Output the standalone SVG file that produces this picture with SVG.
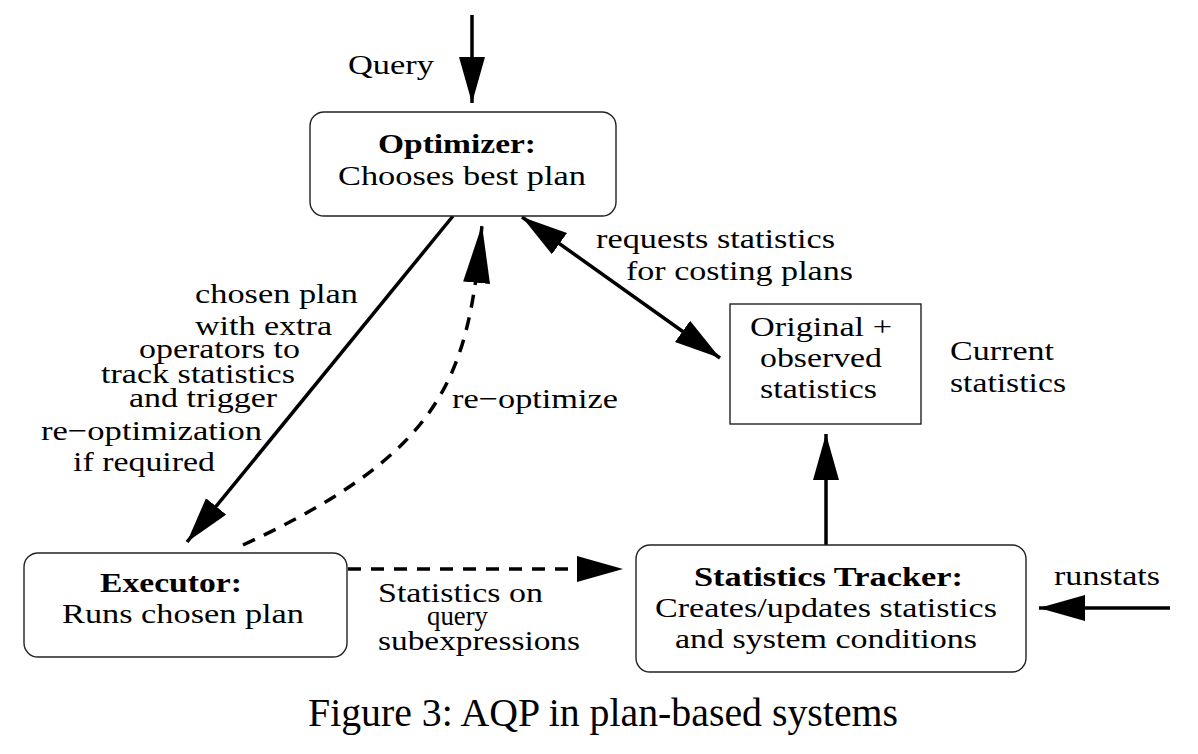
<svg xmlns="http://www.w3.org/2000/svg" width="1198" height="754" viewBox="0 0 1198 754">
<style>
text{font-family:"Liberation Serif","Times New Roman",serif;font-size:28px;fill:#000}
.b{font-weight:bold}
.cap{font-size:39px}
.box{fill:#fff;stroke:#222;stroke-width:1.4}
.ln{fill:none;stroke:#000;stroke-width:3.5}
.ds{stroke-dasharray:13 10}
</style>
<defs>
<marker id="ah" markerUnits="userSpaceOnUse" markerWidth="48" markerHeight="28" refX="46" refY="13" orient="auto-start-reverse" viewBox="0 0 48 28">
<path d="M0,0 L46,13 L0,26 Z" fill="#000"/>
</marker>
<marker id="ahl" markerUnits="userSpaceOnUse" markerWidth="60" markerHeight="28" refX="58" refY="13.5" orient="auto" viewBox="0 0 60 28">
<path d="M0,0 L58,13.5 L0,27 Z" fill="#000"/>
</marker>
</defs>
<rect width="1198" height="754" fill="#fff"/>
<g id="connectors">
<line class="ln" x1="472" y1="15" x2="472" y2="103" marker-end="url(#ah)"/>
<line class="ln" x1="453" y1="216" x2="187" y2="542" marker-end="url(#ah)"/>
<path class="ln ds" d="M243,545 C448,450 468,374 482,225" marker-end="url(#ahl)"/>
<line class="ln" x1="522" y1="217" x2="720" y2="358" marker-start="url(#ah)" marker-end="url(#ah)"/>
<line class="ln ds" x1="348" y1="569" x2="623" y2="569" marker-end="url(#ah)"/>
<line class="ln" x1="826" y1="545" x2="826" y2="434" marker-end="url(#ah)"/>
<line class="ln" x1="1170" y1="608" x2="1039" y2="608" marker-end="url(#ah)"/>
</g>
<g id="optimizer">
<rect class="box" x="310" y="112" width="306" height="104" rx="14"/>
<text class="b" x="378" y="153" textLength="158" lengthAdjust="spacingAndGlyphs">Optimizer:</text>
<text x="338" y="185" textLength="248" lengthAdjust="spacingAndGlyphs">Chooses best plan</text>
</g>
<g id="executor">
<rect class="box" x="24" y="553" width="323" height="104" rx="14"/>
<text class="b" x="100" y="592" textLength="142" lengthAdjust="spacingAndGlyphs">Executor:</text>
<text x="62" y="623" textLength="242" lengthAdjust="spacingAndGlyphs">Runs chosen plan</text>
</g>
<g id="statistics-tracker">
<rect class="box" x="636" y="545" width="390" height="127" rx="14"/>
<text class="b" x="694" y="586" textLength="269" lengthAdjust="spacingAndGlyphs">Statistics Tracker:</text>
<text x="655" y="617" textLength="342" lengthAdjust="spacingAndGlyphs">Creates/updates statistics</text>
<text x="675" y="648" textLength="302" lengthAdjust="spacingAndGlyphs">and system conditions</text>
</g>
<g id="statistics-store">
<rect class="box" x="730" y="304" width="191" height="120"/>
<text x="750" y="336" textLength="142" lengthAdjust="spacingAndGlyphs">Original +</text>
<text x="760" y="367" textLength="122" lengthAdjust="spacingAndGlyphs">observed</text>
<text x="760" y="398" textLength="117" lengthAdjust="spacingAndGlyphs">statistics</text>
</g>
<g id="labels">
<text x="348" y="74" textLength="86" lengthAdjust="spacingAndGlyphs">Query</text>
<text x="195" y="303" textLength="163" lengthAdjust="spacingAndGlyphs">chosen plan</text>
<text x="195" y="335" textLength="137" lengthAdjust="spacingAndGlyphs">with extra</text>
<text x="139" y="358" textLength="161" lengthAdjust="spacingAndGlyphs">operators to</text>
<text x="101" y="383" textLength="194" lengthAdjust="spacingAndGlyphs">track statistics</text>
<text x="129" y="407" textLength="148" lengthAdjust="spacingAndGlyphs">and trigger</text>
<text x="41" y="440" textLength="221" lengthAdjust="spacingAndGlyphs">re−optimization</text>
<text x="73" y="471" textLength="142" lengthAdjust="spacingAndGlyphs">if required</text>
<text x="452" y="408" textLength="166" lengthAdjust="spacingAndGlyphs">re−optimize</text>
<text x="596" y="248" textLength="239" lengthAdjust="spacingAndGlyphs">requests statistics</text>
<text x="626" y="280" textLength="227" lengthAdjust="spacingAndGlyphs">for costing plans</text>
<text x="950" y="360" textLength="104" lengthAdjust="spacingAndGlyphs">Current</text>
<text x="950" y="392" textLength="116" lengthAdjust="spacingAndGlyphs">statistics</text>
<text x="378" y="602" textLength="165" lengthAdjust="spacingAndGlyphs">Statistics on</text>
<text x="427" y="625" textLength="61" lengthAdjust="spacingAndGlyphs">query</text>
<text x="378" y="650" textLength="202" lengthAdjust="spacingAndGlyphs">subexpressions</text>
<text x="1054" y="585" textLength="106" lengthAdjust="spacingAndGlyphs">runstats</text>
</g>
<g id="caption">
<text class="cap" x="308" y="726" textLength="590" lengthAdjust="spacingAndGlyphs">Figure 3: AQP in plan-based systems</text>
</g>
</svg>
